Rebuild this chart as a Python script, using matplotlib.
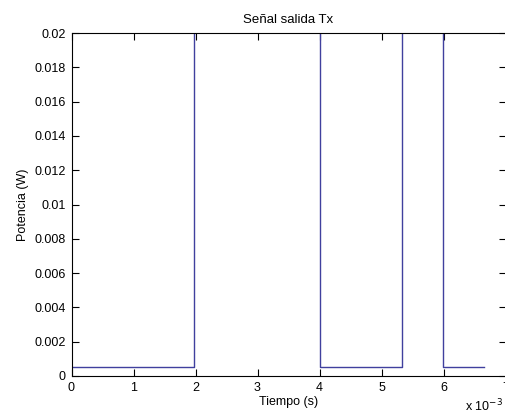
import matplotlib
matplotlib.use("Agg")
import matplotlib.pyplot as plt
import numpy as np
from matplotlib.ticker import FuncFormatter

plt.rcParams['font.family'] = ['Liberation Sans', 'DejaVu Sans']

# Step signal: switching times (s) and power levels (W)
edges_t = [0.0, 0.00198, 0.0040, 0.00533, 0.00599, 0.00666]
levels = [0.0005, 0.05, 0.0005, 0.05, 0.0005]

title = "Señal salida Tx"
xlabel = "Tiempo (s)"
ylabel = "Potencia (W)"
xticks = [0, 0.001, 0.002, 0.003, 0.004, 0.005, 0.006, 0.007]
yticks = [0, 0.002, 0.004, 0.006, 0.008, 0.01, 0.012, 0.014, 0.016, 0.018, 0.02]
ytick_labels = ["0", "0.002", "0.004", "0.006", "0.008", "0.01", "0.012", "0.014", "0.016", "0.018", "0.02"]

fig = plt.figure(figsize=(5.05, 4.17), dpi=100)
ax = fig.add_axes([71.5/505, 1-376/417, (505.5-71.5)/505, (376-33)/417])

# build step path
xs, ys = [], []
for i, lv in enumerate(levels):
    xs += [edges_t[i], edges_t[i+1]]
    ys += [lv, lv]
ax.plot(xs, ys, color='#40409e', lw=1.0)

ax.set_xlim(0, 0.007)
ax.set_ylim(0, 0.02)
ax.set_xticks(xticks)
ax.xaxis.set_major_formatter(FuncFormatter(lambda v, p: f"{v*1000:g}"))
ax.set_yticks(yticks)
ax.set_yticklabels(ytick_labels)
ax.tick_params(direction='in', length=5, width=0.8, top=True, right=True,
               labelsize=9, colors='black', pad=4)
for s in ax.spines.values():
    s.set_linewidth(0.8)
ax.set_title(title, fontsize=9.5, pad=7)
ax.set_xlabel(xlabel, fontsize=9, labelpad=2)
ax.set_ylabel(ylabel, fontsize=9, labelpad=4)
fig.text(503/505, 1-406/417, "x 10$^{-3}$", fontsize=9, va='center', ha='right')

fig.savefig("out.png", dpi=100)
